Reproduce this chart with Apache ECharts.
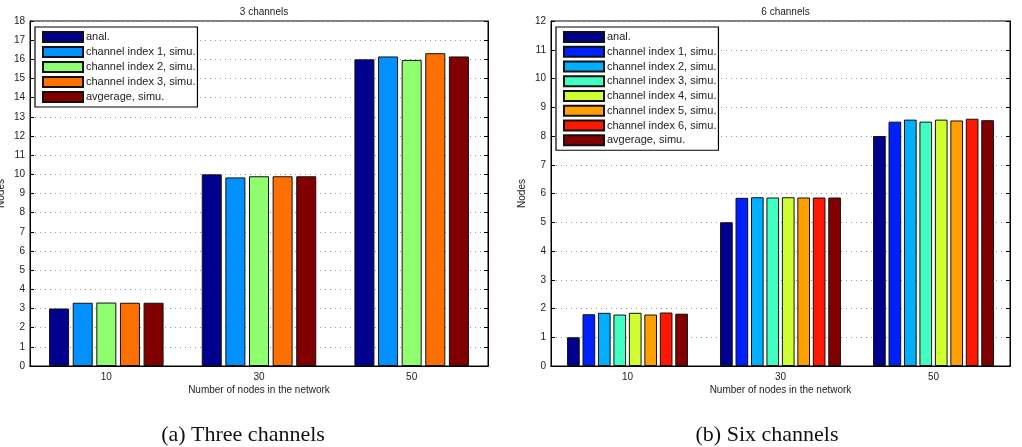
<!DOCTYPE html>
<html>
<head>
<meta charset="utf-8">
<script src="https://cdn.jsdelivr.net/npm/echarts@6/dist/echarts.min.js"></script>
<style>
  html, body { margin: 0; padding: 0; background: #fff; }
  #a, #b { position: absolute; top: 0; width: 511px; height: 447px; }
  #a { left: 0; }
  #b { left: 511px; }
</style>
</head>
<body>
<div id="a"></div>
<div id="b"></div>
<script>
// x categories shared by both panels
const categories = ['10', '30', '50'];

// panel (a): three channels
const namesA = ['anal.', 'channel index 1, simu.', 'channel index 2, simu.', 'channel index 3, simu.', 'avgerage, simu.'];
const colorsA = ['#00008f', '#0090ff', '#8fff70', '#ff7000', '#800000'];
const anal3 = [3.0, 10.0, 16.0];
const ch1of3 = [3.3, 9.84, 16.15];
const ch2of3 = [3.31, 9.9, 15.97];
const ch3of3 = [3.3, 9.9, 16.32];
const avg3 = [3.3, 9.9, 16.15];

// panel (b): six channels
const namesB = ['anal.', 'channel index 1, simu.', 'channel index 2, simu.', 'channel index 3, simu.',
  'channel index 4, simu.', 'channel index 5, simu.', 'channel index 6, simu.', 'avgerage, simu.'];
const colorsB = ['#00008f', '#0020ff', '#00b0ff', '#40ffc0', '#cfff30', '#ffa000', '#ff1800', '#800000'];
const anal6 = [1.0, 5.0, 8.0];
const ch1of6 = [1.8, 5.85, 8.5];
const ch2of6 = [1.85, 5.87, 8.57];
const ch3of6 = [1.79, 5.86, 8.5];
const ch4of6 = [1.85, 5.87, 8.57];
const ch5of6 = [1.79, 5.86, 8.54];
const ch6of6 = [1.86, 5.86, 8.6];
const avg6 = [1.82, 5.86, 8.55];

const FONT = 'Liberation Sans';

function makeChart(el, p) {
  const chart = echarts.init(el, null, { renderer: 'canvas' });
  const lbl = { fontFamily: FONT, fontSize: 10, color: '#222' };

  const option = {
    backgroundColor: '#fff',
    animation: false,
    title: [
      {
        text: p.title, left: p.gridLeft + p.gridWidth / 2, top: 2, textAlign: 'center',
        textStyle: { fontFamily: FONT, fontSize: 10, fontWeight: 'normal', color: '#222' }
      },
      {
        text: p.caption, left: p.captionX, top: 419, textAlign: 'center',
        textStyle: { fontFamily: 'Liberation Serif', fontSize: 22, fontWeight: 'normal', color: '#111' }
      }
    ],
    legend: {
      orient: 'vertical',
      left: p.legendLeft, top: 27,
      data: p.names,
      icon: 'rect',
      itemWidth: 40, itemHeight: 10, itemGap: p.legendGap,
      padding: [4, 2, 4, 7],
      backgroundColor: '#fff',
      borderColor: '#000', borderWidth: 1.2,
      textStyle: { fontFamily: FONT, fontSize: 11, lineHeight: 11, color: '#222', padding: [0, 0, 0, -2] },
      selectedMode: false
    },
    grid: {
      left: p.gridLeft, top: 21, width: p.gridWidth, height: 345,
      outerBoundsMode: 'none', containLabel: false,
      show: true, borderColor: '#000', borderWidth: 1, backgroundColor: '#fff'
    },
    xAxis: [
      {
        type: 'category', data: categories, position: 'bottom',
        name: 'Number of nodes in the network', nameLocation: 'middle', nameGap: 19,
        nameMoveOverlap: false,
        nameTextStyle: lbl,
        axisLine: { lineStyle: { color: '#000' } },
        axisTick: { inside: true, alignWithLabel: true, length: 4, lineStyle: { color: '#000' } },
        axisLabel: Object.assign({ margin: 6 }, lbl),
        splitLine: { show: false }
      },
      {
        type: 'category', data: categories, position: 'top',
        axisLine: { lineStyle: { color: '#000' } },
        axisTick: { inside: true, alignWithLabel: true, length: 4, lineStyle: { color: '#000' } },
        axisLabel: { show: false },
        splitLine: { show: false }
      }
    ],
    yAxis: [
      {
        type: 'value', min: 0, max: p.yMax, interval: 1, position: 'left',
        name: 'Nodes', nameLocation: 'middle', nameGap: 24, nameRotate: 90,
        nameMoveOverlap: false,
        nameTextStyle: lbl,
        axisLine: { show: true, lineStyle: { color: '#000' } },
        axisTick: { show: true, inside: true, length: 4, lineStyle: { color: '#000' } },
        axisLabel: Object.assign({ margin: 5 }, lbl),
        splitLine: { show: true, lineStyle: { color: '#999', type: [1, 4], width: 1 } }
      },
      {
        type: 'value', min: 0, max: p.yMax, interval: 1, position: 'right',
        axisLine: { show: true, lineStyle: { color: '#000' } },
        axisTick: { show: true, inside: true, length: 4, lineStyle: { color: '#000' } },
        axisLabel: { show: false },
        splitLine: { show: false }
      }
    ],
    series: p.values.map((v, i) => ({
      name: p.names[i],
      type: 'bar',
      data: v,
      barGap: p.barGap,
      barCategoryGap: p.catGap,
      itemStyle: { color: p.colors[i], borderColor: '#111', borderWidth: 1 }
    }))
  };

  chart.setOption(option);
  return chart;
}

makeChart(document.getElementById('a'), {
  title: '3 channels', caption: '(a) Three channels', captionX: 238,
  names: namesA, colors: colorsA,
  values: [anal3, ch1of3, ch2of3, ch3of3, avg3],
  yMax: 18, gridLeft: 30, gridWidth: 458,
  legendLeft: 35, legendGap: 3,
  barGap: '18%', catGap: '25%'
});

makeChart(document.getElementById('b'), {
  title: '6 channels', caption: '(b) Six channels', captionX: 251,
  names: namesB, colors: colorsB,
  values: [anal6, ch1of6, ch2of6, ch3of6, ch4of6, ch5of6, ch6of6, avg6],
  yMax: 12, gridLeft: 40, gridWidth: 459,
  legendLeft: 45, legendGap: 2.75,
  barGap: '22%', catGap: '21%'
});
</script>
</body>
</html>
